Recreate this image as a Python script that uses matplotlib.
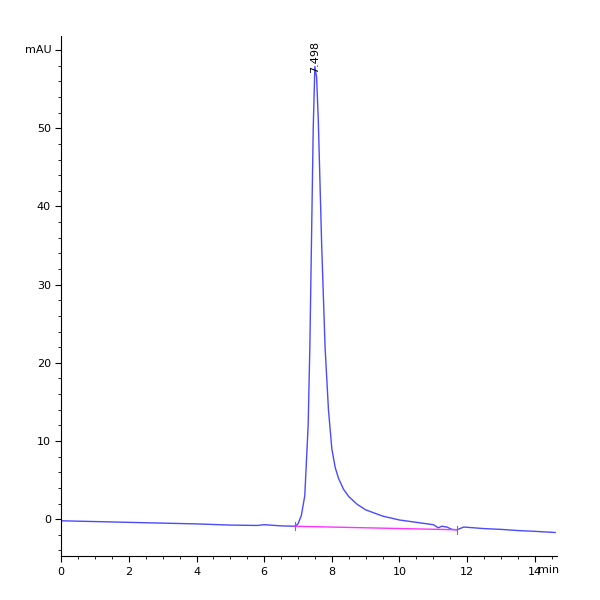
import numpy as np
import matplotlib.pyplot as plt

# chromatogram (time in min, signal in mAU)
t = [0.0, 1.0, 2.0, 3.0, 4.0, 5.0, 5.8, 6.0, 6.5, 6.9, 7.0, 7.1, 7.2, 7.3, 7.35, 7.4,
     7.45, 7.498, 7.55, 7.6, 7.65, 7.7, 7.8, 7.9, 8.0, 8.1, 8.2, 8.35, 8.5, 8.75, 9.0,
     9.5, 10.0, 10.5, 11.0, 11.15, 11.25, 11.4, 11.55, 11.7, 11.9, 12.5, 13.0, 13.5,
     14.0, 14.6]
sig = [-0.2, -0.3, -0.4, -0.5, -0.6, -0.75, -0.8, -0.7, -0.85, -0.9, -0.6, 0.5, 3.0,
       12.0, 22.0, 36.0, 50.0, 57.9, 56.5, 51.0, 43.0, 35.0, 22.0, 14.0, 9.0, 6.6, 5.2,
       3.8, 2.9, 1.9, 1.2, 0.4, -0.1, -0.4, -0.7, -1.1, -0.9, -1.0, -1.3, -1.35, -1.0,
       -1.2, -1.3, -1.45, -1.55, -1.7]
base_t = [6.9, 11.7]
base_y = [-0.9, -1.35]
peak_rt = 7.498
peak_h = 57.9

fig = plt.figure(figsize=(6, 6), dpi=100)
ax = fig.add_axes([0.102, 0.073, 0.826, 0.867])
ax.plot(t, sig, color="#4a4aff", lw=1.0)
ax.plot(base_t, base_y, color="#ff33ff", lw=1.0)
for bt, by in zip(base_t, base_y):
    ax.plot([bt, bt], [by - 0.5, by + 0.5], color="#777777", lw=0.8)
ax.text(peak_rt, peak_h - 0.8, "%.3f" % peak_rt, rotation=90, ha="center", va="bottom", fontsize=8)

ax.set_xlim(0, 14.65)
ax.set_ylim(-4.73, 61.8)
ax.set_xticks([0, 2, 4, 6, 8, 10, 12, 14])
ax.set_xticks(np.arange(0, 14.6, 0.5), minor=True)
ax.set_yticks([0, 10, 20, 30, 40, 50, 60])
ax.set_yticklabels(["0", "10", "20", "30", "40", "50", ""])
ax.set_yticks(np.arange(-4, 61, 2), minor=True)
ax.tick_params(labelsize=8, direction="out", length=4)
ax.tick_params(which="minor", length=2)
for s in ["top", "right"]:
    ax.spines[s].set_visible(False)
ax.text(-0.02, 60, "mAU", transform=ax.get_yaxis_transform(), ha="right", va="center", fontsize=8)
ax.text(1.005, -0.016, "min", transform=ax.transAxes, ha="right", va="top", fontsize=8)

fig.savefig("out.png")
